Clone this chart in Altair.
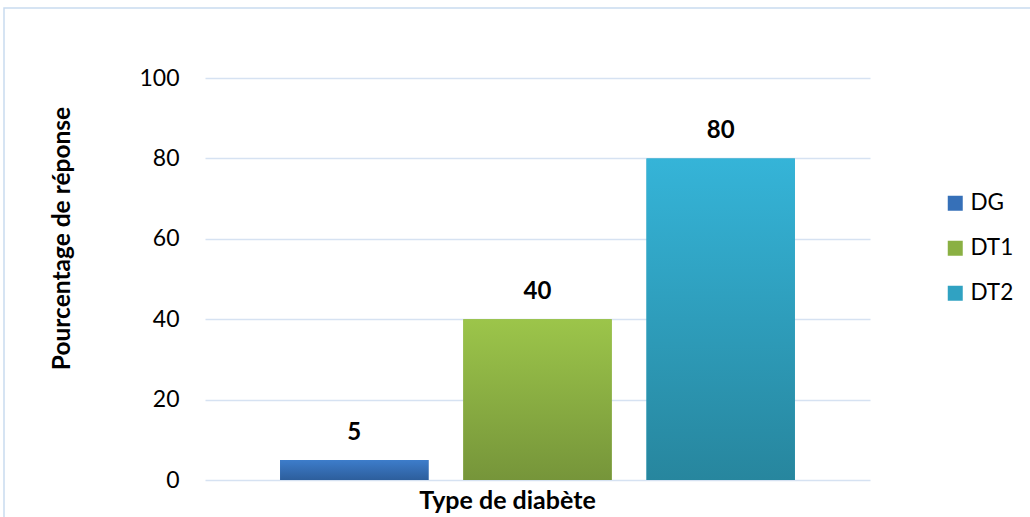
import altair as alt
import pandas as pd

# Diabetes types and response percentages
types = ["DG", "DT1", "DT2"]
values = [5, 40, 80]

# Gradient colours for each bar (top -> bottom) and a flat legend swatch colour
top_colors = ["#3d7dcb", "#9cc54a", "#35b4d8"]
bottom_colors = ["#2d5e9c", "#76953a", "#27869e"]
swatch_colors = ["#3670b8", "#8ab043", "#30a2c2"]

df = pd.DataFrame({"type": types, "value": values})

FONT = "Lato"
GRID = "#d6e2f2"

x_enc = alt.X(
    "type:N",
    scale=alt.Scale(domain=types, paddingInner=0.19, paddingOuter=0.41),
    axis=alt.Axis(
        labels=False, ticks=False, domain=False, grid=False,
        title="Type de diabète", titleFontSize=25, titleFontWeight="bold",
        titleColor="#000000", titleX=302, titleY=20, titleBaseline="middle",
        titleAlign="center",
    ),
)
y_enc = alt.Y(
    "value:Q",
    scale=alt.Scale(domain=[0, 100], nice=False),
    axis=alt.Axis(
        values=[0, 20, 40, 60, 80, 100], ticks=False, domain=False,
        grid=True, gridColor=GRID, gridWidth=1.5,
        labelFontSize=23, labelColor="#000000", labelPadding=26,
        title="Pourcentage de réponse", titleFontSize=24.5, titleFontWeight="bold",
        titleColor="#000000", titleX=-143, titleY=160, titleBaseline="middle",
        titleAlign="center", titleAngle=270,
    ),
)

base = alt.Chart(df)

# Outer chart frame
frame = alt.Chart(pd.DataFrame({"k": [0]})).mark_rect(
    filled=False, stroke="#c9dbf0", strokeWidth=1.5
).encode(
    x=alt.value(-201), x2=alt.value(1200), y=alt.value(-70), y2=alt.value(700)
)

# Flat bars carrying the colour legend
legend_bars = base.mark_bar().encode(
    x=x_enc,
    y=y_enc,
    color=alt.Color(
        "type:N",
        scale=alt.Scale(domain=types, range=swatch_colors),
        legend=alt.Legend(
            title=None, orient="none", legendX=739, legendY=114,
            symbolType="square", symbolSize=225, symbolStrokeWidth=0,
            labelFontSize=22.5, labelColor="#000000", labelOffset=4,
            rowPadding=22,
        ),
    ),
)

# Vertical gradient fill, one layer per bar
gradient_layers = []
for t, c_top, c_bot in zip(types, top_colors, bottom_colors):
    grad = {
        "gradient": "linear",
        "x1": 0, "x2": 0, "y1": 0, "y2": 1,
        "stops": [
            {"offset": 0, "color": c_top},
            {"offset": 1, "color": c_bot},
        ],
    }
    gradient_layers.append(
        base.mark_bar(color=grad).encode(x="type:N", y="value:Q")
        .transform_filter(alt.datum.type == t)
    )

labels = base.mark_text(
    fontSize=24, fontWeight="bold", color="#000000", baseline="middle", dy=-27
).encode(x="type:N", y="value:Q", text="value:Q")

chart = alt.layer(frame, legend_bars, *gradient_layers, labels).properties(
    width=665,
    height=402,
    padding={"left": 205, "top": 78, "right": 160, "bottom": 37},
    autosize="none",
).configure(font=FONT).configure_view(stroke=None)

chart.save("out.html", embed_options={"renderer": "svg", "actions": False})
